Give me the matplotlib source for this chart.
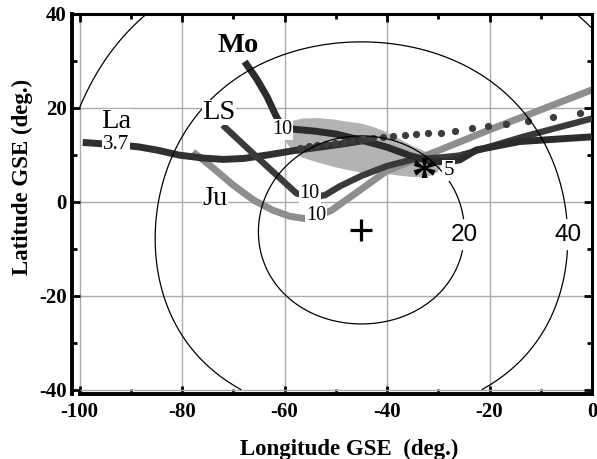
import numpy as np
import matplotlib
matplotlib.use("Agg")
import matplotlib.pyplot as plt
from matplotlib.textpath import TextPath
from matplotlib.font_manager import FontProperties
from matplotlib.path import Path

plt.rcParams["font.family"] = "Liberation Serif"
plt.rcParams["axes.unicode_minus"] = False

# tracks (GSE longitude, latitude in deg)
mo_lon = [-67.8, -65.5, -63.5, -61.7, -60.5, -58.0, -54.0, -50.0, -44.7, -40.0, -35.5, -31.6, -28.0, -25.8, -22.6, -14.1, 0.0]
mo_lat = [29.8, 26.2, 22.5, 18.3, 16.0, 15.4, 15.0, 14.4, 13.0, 11.6, 9.8, 8.6, 8.5, 8.9, 11.0, 12.8, 13.8]

ls_lon = [-72.1, -65.5, -57.7, -55.0, -52.1, -49.2, -45.0, -40.0, -35.0, -29.7, -26.0, -23.3, -13.5, 0.0]
ls_lat = [16.3, 9.6, 1.8, 0.9, 1.4, 3.3, 5.5, 7.6, 9.0, 9.4, 9.8, 10.6, 13.8, 17.7]

la_lon = [-99.4, -94.0, -88.7, -85.0, -80.5, -76.0, -72.0, -68.0, -63.0, -58.0, -52.5, -48.0, -44.5]
la_lat = [12.6, 12.2, 11.7, 11.0, 9.9, 9.3, 9.0, 9.2, 10.0, 10.9, 11.7, 12.4, 13.0]

ju_lon = [-77.9, -74.0, -70.0, -66.0, -62.3, -59.0, -56.0, -53.9, -50.8, -45.5, -40.0, -29.7, -20.0, 0.0]
ju_lat = [10.6, 7.2, 3.5, 0.3, -1.8, -3.1, -3.6, -3.3, -1.8, 2.3, 6.6, 11.0, 15.3, 23.8]

dots_lon = [-57.0, -55.3, -53.6, -51.9, -50.2, -48.5, -46.8, -45.1, -43.9, -42.7, -40.8, -38.8,
            -36.5, -34.4, -32.1, -29.5, -26.8, -23.5, -20.3, -16.7, -12.4, -7.6, -2.3]
dots_lat = [11.5, 11.8, 12.0, 12.3, 12.5, 12.8, 13.0, 13.2, 13.4, 13.6, 13.7, 14.0,
            14.2, 14.3, 14.6, 14.7, 15.1, 15.6, 16.0, 16.5, 17.2, 18.1, 18.9]

# shaded region
blob_lon = [-60.2, -59.6, -58.5, -56.5, -53.5, -50.5, -47.5, -45.0, -42.7, -40.5, -38.8, -36.8, -34.9,
            -33.0, -31.4, -30.1, -29.5, -30.2, -31.5, -33.5, -35.5, -38.0, -41.0, -44.3, -47.5, -50.8,
            -54.0, -56.6, -58.6, -59.8]
blob_lat = [14.5, 16.3, 17.2, 17.7, 17.8, 17.5, 17.0, 16.6, 15.9, 15.0, 14.1, 12.9, 11.8,
            10.9, 10.1, 9.0, 7.6, 6.2, 5.5, 5.2, 5.3, 5.6, 6.0, 6.0, 6.7, 7.5,
            8.5, 9.4, 11.0, 12.8]

centre = (-45.0, -6.0)
star = (-33.0, 5.6)
dist_levels = [20, 40, 60]
dist_label_pos = [(-25.3, -7.0), (-5.0, -7.0)]

names = ["Mo", "LS", "La", "Ju"]
name_pos = [(-69.1, 33.3), (-72.8, 19.0), (-92.8, 17.0), (-73.6, 0.6)]
end_labels = ["3.7", "10", "10", "10", "5"]
end_pos = [(-92.9, 12.1), (-60.5, 15.3), (-55.1, 1.8), (-53.9, -3.0), (-28.0, 6.7)]
end_size = [15, 14.5, 14.5, 14.5, 15]

fig = plt.figure(figsize=(5.97, 4.59), dpi=100)
ax = fig.add_axes([0.1206, 0.1427, 0.871, 0.8275])
ax.set_xlim(-101.5, 0)
ax.set_ylim(-40.8, 40)

ax.grid(True, which="major", color="#ababab", lw=1.0)
ax.set_axisbelow(True)

ax.fill(blob_lon, blob_lat, color="#b3b3b3", lw=0, zorder=1)
ax.plot(ju_lon, ju_lat, color="#8e8e8e", lw=5.0, solid_capstyle="butt", zorder=2)
ax.plot(la_lon, la_lat, color="#303030", lw=5.0, solid_capstyle="butt", zorder=3)
ax.plot(ls_lon, ls_lat, color="#3a3a3a", lw=4.6, solid_capstyle="butt", zorder=3)
ax.plot(mo_lon, mo_lat, color="#2c2c2c", lw=5.0, solid_capstyle="butt", zorder=3)
ax.plot(dots_lon, dots_lat, ls="none", marker="o", ms=5.2, color="#3c3c3c", mew=0, zorder=4)

# angular distance contours from the + direction
lon_g = np.linspace(-100, 0, 201)
lat_g = np.linspace(-40, 40, 161)
LON, LAT = np.meshgrid(np.radians(lon_g), np.radians(lat_g))
lon0, lat0 = np.radians(centre[0]), np.radians(centre[1])
cosd = np.sin(LAT) * np.sin(lat0) + np.cos(LAT) * np.cos(lat0) * np.cos(LON - lon0)
dist = np.degrees(np.arccos(np.clip(cosd, -1, 1)))
cs = ax.contour(lon_g, lat_g, dist, levels=dist_levels, colors="k", linewidths=0.9, zorder=5)
with plt.rc_context({"font.family": "Liberation Sans"}):
    lbls = ax.clabel(cs, levels=dist_levels[:2], fmt="%d", fontsize=17.5, inline=True,
                     inline_spacing=2, manual=dist_label_pos)
for t in lbls:
    t.set_rotation(0)

ax.plot(*centre, marker="+", ms=16, mew=2.3, color="k", zorder=6)
fp = FontProperties(family="Liberation Serif", weight="bold")
tp = TextPath((0, 0), "*", prop=fp)
v = tp.vertices
c = (v.min(axis=0) + v.max(axis=0)) / 2
star_path = Path(v - c, tp.codes)
ax.plot(*star, marker=star_path, ms=25, color="k", mew=0, zorder=6)

box = dict(facecolor="white", edgecolor="none", pad=0.6)
for name, (x, y) in zip(names, name_pos):
    ax.text(x, y, name, fontsize=20.5, fontweight="bold" if name == "Mo" else "normal",
            ha="center", va="center", zorder=7,
            bbox=dict(facecolor="white", edgecolor="none", pad=0.3))
for s, (x, y), fs in zip(end_labels, end_pos, end_size):
    ax.text(x, y, s, fontsize=fs, ha="center", va="center", zorder=7, bbox=box)

ax.set_xticks(np.arange(-100, 1, 20))
ax.set_xticks(np.arange(-100, 1, 10), minor=True)
ax.set_yticks(np.arange(-40, 41, 20))
ax.set_yticks(np.arange(-40, 41, 10), minor=True)
ax.tick_params(which="both", direction="in", top=True, right=True, width=2.0)
ax.tick_params(which="major", length=6, labelsize=15)
ax.tick_params(which="minor", length=3.8)
ax.tick_params(axis="x", pad=6)
ax.tick_params(axis="y", pad=4)
for lab in ax.get_xticklabels() + ax.get_yticklabels():
    lab.set_fontweight("bold")

ax.spines["left"].set_linewidth(2.8)
ax.spines["bottom"].set_linewidth(2.8)
ax.spines["top"].set_linewidth(2.2)
ax.spines["right"].set_linewidth(2.2)
ax.spines["bottom"].set_bounds(-100, 0)

xl = ax.set_xlabel("Longitude GSE  (deg.)", fontsize=16.5, fontweight="bold")
yl = ax.set_ylabel("Latitude GSE (deg.)", fontsize=16.5, fontweight="bold")
ax.xaxis.set_label_coords(0.533, -0.146)
ax.yaxis.set_label_coords(-0.096, 0.569)
xl.set_verticalalignment("center")
yl.set_verticalalignment("center")

fig.savefig("out.png", dpi=100)
